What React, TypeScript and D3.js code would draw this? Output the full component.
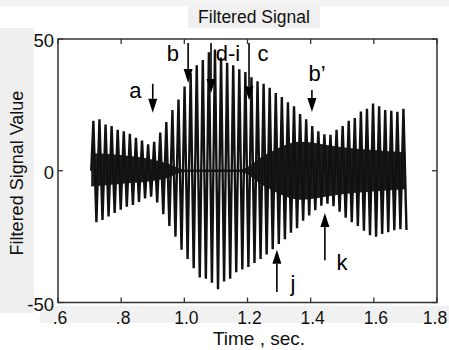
import React from "react";
import * as d3 from "d3";

// ---- data ----
const signalStart = 0.712; // time of first upper peak (s)
const cyclePeriod = 0.01925; // seconds per oscillation
const upperPeaks = [
  19, 19.5, 17.5, 17, 15.5, 15, 14, 12.5, 11.5, 10, 11, 14.5, 18.5, 23, 27, 32, 37, 40, 42, 45, 46, 43, 41, 40, 38.5,
  37.5, 35.5, 34, 33, 31.5, 29.5, 28, 26, 24.5, 21.5, 19.5, 17, 15, 13.8, 13.6, 15.5, 17, 19, 20, 22.5, 23.5, 25.5,
  24.5, 23, 22.8, 22.4, 23.5,
];
const lowerPeaks = [
  -19.5, -18.7, -17.3, -16, -14.8, -13.6, -13, -11.8, -10.5, -9.8, -12, -16.5, -21, -25, -30, -33.5, -37, -40.5, -41,
  -42.5, -45, -42, -41, -38.5, -37.5, -36.5, -35, -33.5, -31.8, -29.8, -27.8, -26, -23.5, -21.8, -19, -17, -15, -13.3,
  -12.5, -13.5, -15.5, -17.8, -19.5, -21, -22.8, -24.5, -25, -24, -23.3, -22.6, -22.2, -22.5,
];
const bandTimes = [0.705, 0.796, 0.891, 0.939, 1.002, 1.176, 1.255, 1.366, 1.493, 1.7];
const bandUpper = [6.6, 6, 4.5, 3, 0.5, 0.5, 6, 11, 9, 7];
const bandLower = [-6, -5, -4, -3, -0.5, -0.5, -6, -11, -9, -7];

const xTickValues = [0.6, 0.8, 1.0, 1.2, 1.4, 1.6, 1.8];
const xTickLabels = [".6", ".8", "1.0", "1.2", "1.4", "1.6", "1.8"];
const yTickValues = [-50, 0, 50];
const yTickLabels = ["-50", "0", "50"];

const markLabels = ["a", "b", "d-i", "c", "b\u2019", "j", "k"];
const markTimes = [0.9, 1.012, 1.0845, 1.2048, 1.404, 1.293, 1.445];
const markFrom = [33, 48.5, 48.5, 48.5, 30.6, -46, -34];
const markTo = [22, 33.3, 29.5, 26.8, 22.3, -30, -16];
const markLabelTimes = [0.845, 0.964, 1.138, 1.249, 1.42, 1.344, 1.499];
const markLabelValues = [30.6, 44.7, 44.7, 44.7, 37.1, -42.6, -34.6];

const W = 449;
const H = 350;
const L = 58;
const R = 437;
const T = 39;
const B = 302.5;
const font = "'Liberation Sans', Arial, Helvetica, sans-serif";

export default function App() {
  const x = d3.scaleLinear().domain([0.6, 1.8]).range([L, R]);
  const y = d3.scaleLinear().domain([-50, 50]).range([B, T]);

  const pts: [number, number][] = [[signalStart - cyclePeriod * 0.35, 0]];
  upperPeaks.forEach((u, i) => {
    const t = signalStart + i * cyclePeriod;
    pts.push([t, u]);
    pts.push([t + cyclePeriod / 2, lowerPeaks[i]]);
  });
  const line = d3
    .line<[number, number]>()
    .x((d) => x(d[0]))
    .y((d) => y(d[1]));

  const band = d3
    .area<number>()
    .x((_, i) => x(bandTimes[i]))
    .y0((_, i) => y(bandLower[i]))
    .y1((_, i) => y(bandUpper[i]))
    .curve(d3.curveMonotoneX);

  const tickLen = 5;

  return (
    <svg width={W} height={H} style={{ position: "absolute", left: 0, top: 0, background: "#fff" }}>
      {/* scan background tint */}
      <rect x={0} y={28} width={34} height={285} fill="#efefef" />
      <rect x={40} y={306} width={409} height={17} fill="#f1f1f1" />
      <rect x={188} y={6} width={132} height={22} fill="#f0f0f0" />
      <rect x={0} y={0} width={449} height={6} fill="#f3f3f3" />

      <text x={254} y={23} textAnchor="middle" fontFamily={font} fontSize={17.5} fill="#111">
        Filtered Signal
      </text>

      {/* plot */}
      <path d={band(bandTimes.map((_, i) => i)) || ""} fill="#1e1e1e" />
      <path d={line(pts) || ""} fill="none" stroke="#111" strokeWidth={2.4} strokeLinejoin="miter" strokeMiterlimit={3} />

      {/* axes box */}
      <rect x={L} y={T} width={R - L} height={B - T} fill="none" stroke="#333" strokeWidth={1.5} />
      {xTickValues.map((v, i) => (
        <g key={"xt" + i}>
          <line x1={x(v)} x2={x(v)} y1={B} y2={B - tickLen} stroke="#333" strokeWidth={1.3} />
          <line x1={x(v)} x2={x(v)} y1={T} y2={T + tickLen} stroke="#333" strokeWidth={1.3} />
          <text
            x={Math.min(x(v) + 2, W - 14)}
            y={324}
            textAnchor="middle"
            fontFamily={font}
            fontSize={17.5}
            fill="#111"
          >
            {xTickLabels[i]}
          </text>
        </g>
      ))}
      {yTickValues.map((v, i) => (
        <g key={"yt" + i}>
          <line x1={L} x2={L + tickLen} y1={y(v)} y2={y(v)} stroke="#333" strokeWidth={1.3} />
          <line x1={R} x2={R - tickLen} y1={y(v)} y2={y(v)} stroke="#333" strokeWidth={1.3} />
          <text x={54} y={y(v) + 8} textAnchor="end" fontFamily={font} fontSize={18.5} fill="#111">
            {yTickLabels[i]}
          </text>
        </g>
      ))}

      <text x={259} y={345} textAnchor="middle" fontFamily={font} fontSize={19} fill="#111">
        Time , sec.
      </text>
      <text
        transform={`translate(23,173) rotate(-90)`}
        textAnchor="middle"
        fontFamily={font}
        fontSize={18}
        fill="#111"
      >
        Filtered Signal Value
      </text>

      {/* annotations */}
      {markLabels.map((lab, i) => {
        const ax = x(markTimes[i]);
        const y0 = y(markFrom[i]);
        const y1 = y(markTo[i]);
        const dir = y1 > y0 ? 1 : -1;
        const head = 14;
        return (
          <g key={"m" + i}>
            <line x1={ax} x2={ax} y1={y0} y2={y1 - dir * head} stroke="#000" strokeWidth={1.6} />
            <path
              d={`M${ax - 4.5},${y1 - dir * head} L${ax + 4.5},${y1 - dir * head} L${ax},${y1} Z`}
              fill="#000"
            />
            <text
              x={x(markLabelTimes[i])}
              y={y(markLabelValues[i]) + 8}
              textAnchor="middle"
              fontFamily={font}
              fontSize={22}
              fill="#000"
            >
              {lab}
            </text>
          </g>
        );
      })}
    </svg>
  );
}
